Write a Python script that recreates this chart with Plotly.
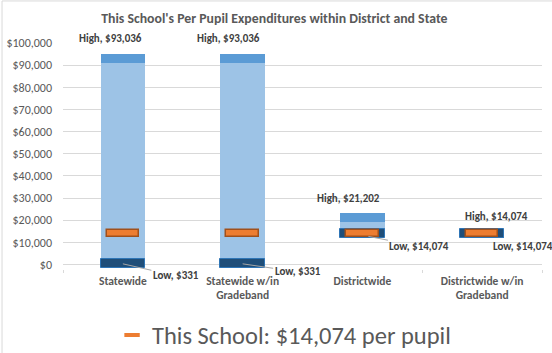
import plotly.graph_objects as go

# ---- data ----
categories = ["Statewide", "Statewide w/in<br>Gradeband", "Districtwide", "Districtwide w/in<br>Gradeband"]
low_values = [331, 331, 14074, 14074]
high_values = [93036, 93036, 21202, 14074]
school_value = 14074
y_ticks = [0, 10000, 20000, 30000, 40000, 50000, 60000, 70000, 80000, 90000, 100000]
title_text = "This School's Per Pupil Expenditures within District and State"
legend_text = "This School: $14,074 per pupil"

# ---- styles ----
FONT = "Calibri, Carlito, Lato, sans-serif"
GRAY = "#595959"
LABEL = "#404040"
BAND = 2100          # half height of the high/low band markers
SCHOOL_BAND = 1600   # half height of the school marker
BAR_W = 0.37
SCHOOL_W = 0.27

fig = go.Figure()

# full range (light blue)
fig.add_trace(go.Bar(
    x=categories, y=[h - l for h, l in zip(high_values, low_values)], base=low_values,
    width=BAR_W, marker=dict(color="#9DC3E6", line=dict(width=0)), showlegend=False, hoverinfo="skip"))
# high band
fig.add_trace(go.Bar(
    x=categories, y=[2 * BAND] * len(categories), base=[h - BAND for h in high_values],
    width=BAR_W, marker=dict(color="#5B9BD5", line=dict(width=0)), showlegend=False, hoverinfo="skip"))
# low band
fig.add_trace(go.Bar(
    x=categories, y=[2 * BAND] * len(categories), base=[l - BAND for l in low_values],
    width=BAR_W, marker=dict(color="#1F4E79", line=dict(width=1, color="#2E75B6")), showlegend=False, hoverinfo="skip"))
# this school marker
fig.add_trace(go.Bar(
    x=categories, y=[2 * SCHOOL_BAND] * len(categories), base=[school_value - SCHOOL_BAND] * len(categories),
    width=SCHOOL_W, marker=dict(color="#ED7D31", line=dict(width=1.5, color="#A0501C")), showlegend=False, hoverinfo="skip"))
# legend entry
fig.add_trace(go.Scatter(
    x=[None], y=[None], mode="markers", name=legend_text,
    marker=dict(symbol="line-ew", size=11, line=dict(width=4, color="#ED7D31"))))

annotations = []
high_xshift = [-12, -14, -14, 14]
high_yshift = [7, 7, 6, 4]
for i, cat in enumerate(categories):
    annotations.append(dict(
        x=cat, y=high_values[i] + BAND, text="<b>High, $%s</b>" % format(high_values[i], ","),
        showarrow=False, yanchor="bottom", xshift=high_xshift[i], yshift=high_yshift[i],
        font=dict(family=FONT, size=11, color=LABEL)))

# low labels: (xshift, yshift) for tip, (ax, ay) for text, arrow flag
low_cfg = [
    dict(xs=0, ys=0, ax=53, ay=12, arrow=True),
    dict(xs=0, ys=0, ax=55, ay=8, arrow=True),
    dict(xs=6, ys=-3, ax=51, ay=10, arrow=True),
    dict(xs=41, ys=-13, ax=0, ay=0, arrow=False),
]
for i, cat in enumerate(categories):
    c = low_cfg[i]
    a = dict(x=cat, y=low_values[i], text="<b>Low, $%s</b>" % format(low_values[i], ","),
             xshift=c["xs"], yshift=c["ys"], font=dict(family=FONT, size=11, color=LABEL))
    if c["arrow"]:
        a.update(showarrow=True, arrowhead=0, arrowwidth=1, arrowcolor="#A6A6A6",
                 ax=c["ax"], ay=c["ay"], axref="pixel", ayref="pixel")
    else:
        a.update(showarrow=False)
    annotations.append(a)

fig.update_layout(
    width=552, height=353,
    margin=dict(l=63, r=10, t=43, b=84, autoexpand=False),
    paper_bgcolor="white", plot_bgcolor="white",
    barmode="overlay", bargap=0,
    font=dict(family=FONT, color=GRAY),
    title=dict(text="<b>" + title_text + "</b>", x=0.497, y=0.949, xref="container", yref="container",
               xanchor="center", yanchor="middle", font=dict(family=FONT, size=13.8, color=GRAY)),
    xaxis=dict(type="category", range=[-0.5, 3.5], autorange=False,
               showgrid=False, showline=False, zeroline=False, automargin=False,
               ticks="outside", tickson="boundaries", ticklen=3, tickcolor="#D9D9D9",
               ticklabelstandoff=3,
               tickfont=dict(family=FONT, size=11.5, color=GRAY)),
    yaxis=dict(range=[-2000, 100000], autorange=False, tickvals=y_ticks, automargin=False,
               ticktext=["$" + format(v, ",") for v in y_ticks],
               showgrid=True, gridcolor="#D9D9D9", gridwidth=1,
               zeroline=True, zerolinecolor="#D9D9D9", zerolinewidth=1,
               showline=False, ticks="", ticklabelstandoff=10,
               tickfont=dict(family=FONT, size=12, color=GRAY)),
    showlegend=True,
    legend=dict(orientation="h", xref="container", yref="container", x=0.203, xanchor="left",
                y=0.051, yanchor="middle",
                font=dict(family=FONT, size=24.5, color=GRAY), itemwidth=30,
                bgcolor="rgba(0,0,0,0)"),
    annotations=annotations,
    shapes=[
        dict(type="line", xref="paper", yref="paper", x0=-0.1273, x1=1.05, y0=1.186, y1=1.186,
             line=dict(color="#D9D9D9", width=1)),
        dict(type="line", xref="paper", yref="paper", x0=-0.1273, x1=-0.1273, y0=1.186, y1=-0.4,
             line=dict(color="#D9D9D9", width=1)),
    ],
)
fig.update_xaxes(ticktext=["<b>" + c + "</b>" for c in categories], tickvals=categories)

fig.write_html("out.html")
